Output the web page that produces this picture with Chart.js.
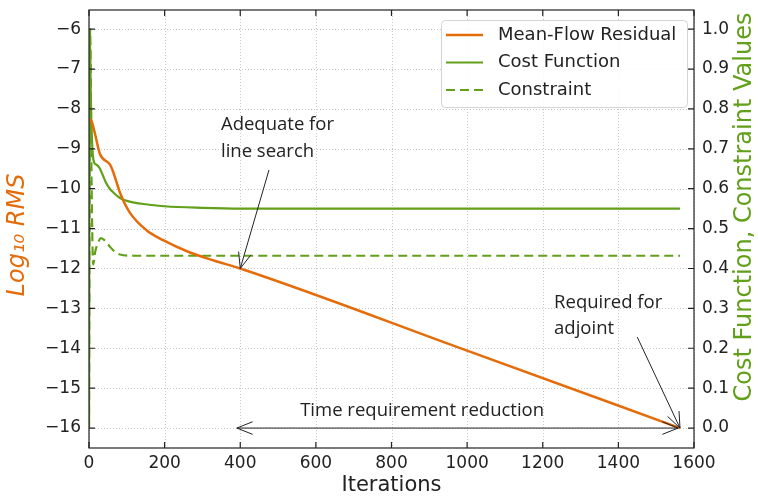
<!DOCTYPE html>
<html>
<head>
<meta charset="utf-8">
<script src="https://cdn.jsdelivr.net/npm/chart.js@4.4.0/dist/chart.umd.min.js"></script>
<style>
  html, body { margin: 0; padding: 0; background: #fff; }
</style>
</head>
<body>
<canvas id="convChart" width="758" height="496"></canvas>
<script>
// 平均流残差 (log10 RMS)
const residualIter = [2, 8, 16, 29, 56, 64, 82, 108, 152, 196, 267, 330, 400, 1000, 1563];
const residualLog = [-8.25, -8.34, -8.63, -9.13, -9.4, -9.58, -10.1, -10.6, -11.04, -11.29, -11.6, -11.8, -12.0, -14.06, -16.0];

// 目标函数
const costIter = [0, 2, 5, 9, 14, 20, 28, 36, 45, 55, 65, 80, 95, 120, 150, 200, 300, 400, 1563];
const costVal = [0.0, 1.0, 0.82, 0.7, 0.665, 0.66, 0.652, 0.635, 0.615, 0.6, 0.59, 0.578, 0.571, 0.565, 0.561, 0.556, 0.552, 0.55, 0.55];

// 约束
const conIter = [0, 3, 7, 11, 16, 24, 32, 42, 55, 65, 82, 120, 1563];
const conVal = [0.0, 1.0, 0.6, 0.41, 0.44, 0.465, 0.476, 0.47, 0.455, 0.445, 0.435, 0.432, 0.432];

// 坐标轴刻度
const iterTicks = [0, 200, 400, 600, 800, 1000, 1200, 1400, 1600];
const logTicks = [-16, -15, -14, -13, -12, -11, -10, -9, -8, -7, -6];

const ORANGE = '#e46c0a';
const GREEN = '#62a01a';
const INK = '#222222';

const toPoints = (xs, ys) => xs.map((x, i) => ({ x: x, y: ys[i] }));

// 箭头
function arrowHead(ctx, fx, fy, tx, ty, len, spread) {
    const ang = Math.atan2(ty - fy, tx - fx);
    ctx.beginPath();
    ctx.moveTo(tx - len * Math.cos(ang - spread), ty - len * Math.sin(ang - spread));
    ctx.lineTo(tx, ty);
    ctx.lineTo(tx - len * Math.cos(ang + spread), ty - len * Math.sin(ang + spread));
    ctx.stroke();
}

function arrow(ctx, fx, fy, tx, ty) {
    ctx.beginPath();
    ctx.moveTo(fx, fy);
    ctx.lineTo(tx, ty);
    ctx.stroke();
    arrowHead(ctx, fx, fy, tx, ty, 17, 0.38);
}

const frame = {
    id: 'frame',
    beforeDatasetsDraw(chart) {
        const { ctx, chartArea: a, scales } = chart;
        ctx.save();
        ctx.strokeStyle = '#c8c8c8';
        ctx.lineWidth = 1;
        ctx.setLineDash([1, 2]);
        iterTicks.forEach(v => {
            const px = Math.round(scales.x.getPixelForValue(v)) + 0.5;
            ctx.beginPath(); ctx.moveTo(px, a.top); ctx.lineTo(px, a.bottom); ctx.stroke();
        });
        logTicks.forEach(v => {
            const py = Math.round(scales.y.getPixelForValue(v)) + 0.5;
            ctx.beginPath(); ctx.moveTo(a.left, py); ctx.lineTo(a.right, py); ctx.stroke();
        });
        ctx.restore();
    },
    afterDatasetsDraw(chart) {
        const { ctx, chartArea: a, scales } = chart;
        ctx.save();
        ctx.strokeStyle = INK;
        ctx.lineWidth = 1.2;
        ctx.strokeRect(a.left, a.top, a.right - a.left, a.bottom - a.top);
        // 向内的刻度线
        const t = 6;
        ctx.beginPath();
        iterTicks.forEach(v => {
            const px = scales.x.getPixelForValue(v);
            ctx.moveTo(px, a.bottom); ctx.lineTo(px, a.bottom - t);
            ctx.moveTo(px, a.top); ctx.lineTo(px, a.top + t);
        });
        logTicks.forEach(v => {
            const py = scales.y.getPixelForValue(v);
            ctx.moveTo(a.left, py); ctx.lineTo(a.left + t, py);
        });
        scales.y1.ticks.forEach(tk => {
            const py = scales.y1.getPixelForValue(tk.value);
            ctx.moveTo(a.right, py); ctx.lineTo(a.right - t, py);
        });
        ctx.stroke();
        ctx.restore();
    },
    afterDraw(chart) {
        const { ctx, scales } = chart;
        const X = v => scales.x.getPixelForValue(v);
        const Y = v => scales.y.getPixelForValue(v);
        ctx.save();

        // 注释文字与箭头
        ctx.fillStyle = INK;
        ctx.strokeStyle = INK;
        ctx.lineWidth = 1;
        ctx.font = '18.5px "Open Sans"';
        ctx.textBaseline = 'middle';
        ctx.textAlign = 'left';
        ctx.fillText('Adequate for', X(349), Y(-8.4));
        ctx.fillText('line search', X(349), Y(-9.08));
        arrow(ctx, X(476), Y(-9.53), X(400), Y(-12.0));

        ctx.fillText('Required for', X(1230), Y(-12.87));
        ctx.fillText('adjoint', X(1230), Y(-13.5));
        arrow(ctx, X(1450), Y(-13.72), X(1563), Y(-16.0));

        ctx.textAlign = 'center';
        ctx.fillText('Time requirement reduction', X(881), Y(-15.57));
        ctx.beginPath();
        ctx.moveTo(X(391), Y(-16)); ctx.lineTo(X(1558), Y(-16));
        ctx.stroke();
        arrowHead(ctx, X(1558), Y(-16), X(391), Y(-16), 17, 0.38);
        arrowHead(ctx, X(391), Y(-16), X(1558), Y(-16), 17, 0.38);

        // 图例
        const lx = 441, ly = 20, lw = 246, lh = 87;
        ctx.beginPath();
        ctx.roundRect(lx + 0.5, ly + 0.5, lw, lh, 4);
        ctx.fillStyle = 'rgba(255,255,255,0.85)';
        ctx.fill();
        ctx.strokeStyle = '#d4d4d4';
        ctx.stroke();
        ctx.font = '18px "DejaVu Sans"';
        ctx.textAlign = 'left';
        chart.data.datasets.forEach((ds, i) => {
            const ry = 35 + i * 27.5;
            ctx.strokeStyle = ds.borderColor;
            ctx.lineWidth = ds.borderWidth;
            ctx.setLineDash(ds.borderDash || []);
            ctx.beginPath(); ctx.moveTo(446, ry); ctx.lineTo(483, ry); ctx.stroke();
            ctx.setLineDash([]);
            ctx.fillStyle = INK;
            ctx.fillText(ds.label, 498, ry);
        });

        // 纵轴标题
        ctx.textAlign = 'center';
        ctx.save();
        ctx.translate(18, 235);
        ctx.rotate(-Math.PI / 2);
        ctx.fillStyle = ORANGE;
        ctx.font = 'italic 24px "DejaVu Sans"';
        ctx.fillText('Log\u2081\u2080 RMS', 0, 0);
        ctx.restore();

        ctx.save();
        ctx.translate(745, 207);
        ctx.rotate(-Math.PI / 2);
        ctx.fillStyle = GREEN;
        ctx.font = '24px "DejaVu Sans"';
        ctx.fillText('Cost Function, Constraint Values', 0, 0);
        ctx.restore();

        ctx.restore();
    }
};

const tickFont = { family: 'DejaVu Sans', size: 17 };

const ctx = document.getElementById('convChart').getContext('2d');
const chart = new Chart(ctx, {
    type: 'line',
    data: {
        datasets: [
            {
                label: 'Mean-Flow Residual',
                data: toPoints(residualIter, residualLog),
                borderColor: ORANGE,
                borderWidth: 2.5,
                yAxisID: 'y'
            },
            {
                label: 'Cost Function',
                data: toPoints(costIter, costVal),
                borderColor: GREEN,
                borderWidth: 2.2,
                yAxisID: 'y1'
            },
            {
                label: 'Constraint',
                data: toPoints(conIter, conVal),
                borderColor: GREEN,
                borderWidth: 2.2,
                borderDash: [9, 5],
                yAxisID: 'y1'
            }
        ]
    },
    options: {
        responsive: false,
        animation: false,
        devicePixelRatio: 1,
        layout: { padding: { top: 10, left: 0, right: 0, bottom: 0 } },
        elements: {
            point: { radius: 0 },
            line: { cubicInterpolationMode: 'monotone', fill: false }
        },
        plugins: {
            legend: { display: false },
            tooltip: { enabled: false }
        },
        scales: {
            x: {
                type: 'linear',
                min: 0,
                max: 1600,
                afterFit: s => { s.height = 48; s.paddingLeft = 0; s.paddingRight = 0; },
                grid: { display: false, drawTicks: false },
                border: { display: false },
                ticks: {
                    stepSize: 200,
                    font: tickFont,
                    color: INK,
                    padding: 5,
                    maxRotation: 0,
                    callback: v => String(v)
                },
                title: {
                    display: true,
                    text: 'Iterations',
                    color: INK,
                    font: { family: 'DejaVu Sans', size: 21, lineHeight: 1 },
                    padding: 0
                }
            },
            y: {
                position: 'left',
                min: -16.5,
                max: -5.52,
                afterFit: s => { s.width = 89; s.paddingTop = 0; s.paddingBottom = 0; },
                grid: { display: false, drawTicks: false },
                border: { display: false },
                ticks: {
                    stepSize: 1,
                    includeBounds: false,
                    font: tickFont,
                    color: INK,
                    padding: 8,
                    callback: v => String(v).replace('-', '\u2212')
                }
            },
            y1: {
                position: 'right',
                min: -0.05,
                max: 1.048,
                afterFit: s => { s.width = 64; s.paddingTop = 0; s.paddingBottom = 0; },
                grid: { display: false, drawTicks: false },
                border: { display: false },
                ticks: {
                    stepSize: 0.1,
                    includeBounds: false,
                    font: tickFont,
                    color: INK,
                    padding: 8,
                    callback: v => v.toFixed(1)
                }
            }
        }
    },
    plugins: [frame]
});
</script>
</body>
</html>
